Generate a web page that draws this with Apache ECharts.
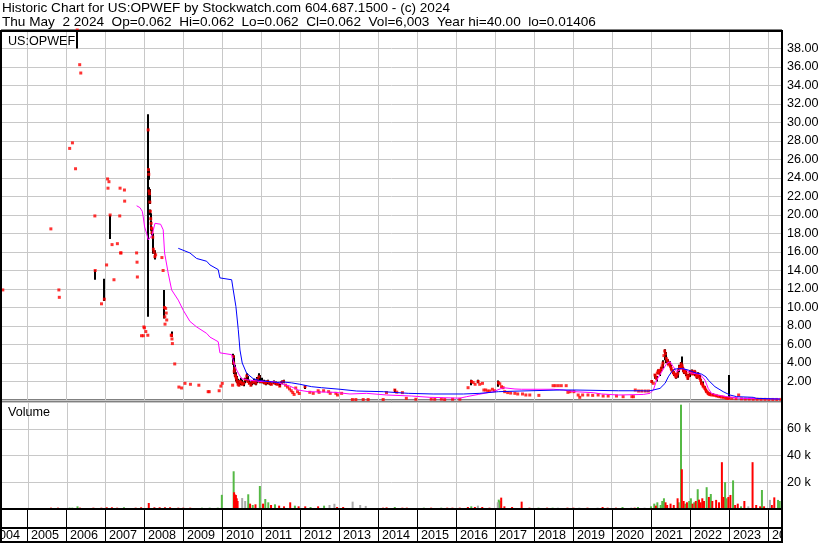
<!DOCTYPE html>
<html><head><meta charset="utf-8">
<script src="https://cdn.jsdelivr.net/npm/echarts@6/dist/echarts.min.js"></script>
<style>html,body{margin:0;padding:0;background:#fff}#c{width:830px;height:543px}</style>
</head><body><div id="c"></div>
<script>
// ---------- DATA ----------
const titleLine1 = 'Historic Chart for US:OPWEF by Stockwatch.com 604.687.1500 - (c) 2024';
const titleLine2 = 'Thu May  2 2024  Op=0.062  Hi=0.062  Lo=0.062  Cl=0.062  Vol=6,003  Year hi=40.00  lo=0.01406';
const symbolLabel = 'US:OPWEF';
const volumeLabel = 'Volume';
const years = [2004,2005,2006,2007,2008,2009,2010,2011,2012,2013,2014,2015,2016,2017,2018,2019,2020,2021,2022,2023,2024];
const dateMin = '2004-05-05', dateMax = '2024-05-14';

// closing prices (red dots)
const closes = [
['2004-05-22',11.9],['2005-08-15',18.5],['2005-10-29',11.9],['2005-11-02',11.1],
['2006-02-07',27.2],['2006-03-05',27.8],['2006-04-03',25.0],['2006-04-19',40.0],['2006-05-12',36.25],['2006-05-22',35.35],
['2006-10-01',19.9],['2006-10-04',14.0],['2006-12-02',10.4],['2006-12-29',10.9],
['2007-01-19',14.6],['2007-01-28',23.9],['2007-02-01',22.9],['2007-02-10',23.6],['2007-02-21',20.0],['2007-03-11',16.8],
['2007-03-29',13.0],['2007-04-30',16.9],['2007-05-22',19.9],['2007-05-25',22.9],['2007-05-30',15.9],['2007-06-03',15.9],
['2007-07-05',22.7],['2007-07-07',21.5],['2007-10-27',15.9],['2007-10-31',14.9],['2007-11-03',13.3],
['2007-12-12',6.95],['2007-12-29',6.95],['2008-01-03',7.9],['2008-01-08',7.8],['2008-01-21',7.4],['2008-02-09',7.0],
['2008-02-12',29.2],['2008-02-15',24.9],['2008-02-18',24.4],['2008-02-21',22.6],['2008-02-25',22.3],['2008-02-28',21.4],
['2008-03-04',20.4],['2008-03-07',19.6],['2008-03-11',19.1],['2008-03-14',18.6],['2008-03-18',18.1],['2008-03-21',18.5],
['2008-03-26',17.6],['2008-04-01',16.3],['2008-04-08',16.0],['2008-04-15',15.5],['2008-04-22',15.7],
['2008-06-20',15.4],['2008-07-01',14.0],['2008-07-14',10.0],['2008-07-17',9.0],['2008-07-19',8.2],['2008-07-25',9.9],
['2008-07-30',9.4],['2008-08-04',8.65],['2008-09-15',7.0],['2008-09-18',7.0],['2008-09-22',6.6],['2008-09-26',6.1],
['2008-10-18',3.9],['2008-11-26',1.4],['2008-12-21',1.3],['2009-01-22',1.8],['2009-03-14',1.7],['2009-06-01',1.6],
['2009-08-27',0.9],['2009-09-06',0.9],['2009-12-08',1.0],['2009-12-24',1.5],['2010-01-06',1.8],['2010-04-13',1.6],
['2010-04-19',4.7],['2010-04-23',4.0],['2010-04-28',3.1],['2010-05-03',3.4],['2010-05-07',2.7],['2010-05-13',2.5],
['2010-05-19',2.3],['2010-05-26',2.0],['2010-06-03',1.7],['2010-06-11',1.6],['2010-06-21',2.0],['2010-07-01',1.9],
['2010-07-13',1.7],['2010-07-26',1.8],['2010-08-09',2.2],['2010-08-23',2.6],['2010-09-03',2.0],['2010-09-17',1.8],
['2010-10-01',1.6],['2010-10-15',1.9],['2010-11-01',2.0],['2010-11-16',1.8],['2010-12-01',2.2],['2010-12-15',2.5],
['2010-12-29',2.0],['2011-01-14',2.0],['2011-02-01',1.9],['2011-02-18',1.8],['2011-03-08',2.0],['2011-03-25',1.8],
['2011-04-12',1.7],['2011-05-02',1.9],['2011-05-20',1.8],['2011-06-08',1.7],['2011-06-28',1.5],['2011-07-15',1.9],
['2011-08-03',2.0],['2011-08-22',1.6],['2011-09-09',1.4],['2011-09-28',1.2],['2011-10-14',1.0],['2011-10-28',0.8],
['2011-11-10',0.6],['2011-11-25',1.3],['2011-12-12',0.9],['2011-12-28',0.7],
['2012-02-20',1.44],['2012-04-05',0.83],['2012-05-07',0.72],['2012-06-22',1.0],['2012-07-01',0.83],['2012-08-12',1.0],
['2012-09-28',0.9],['2012-10-13',0.72],['2012-12-05',0.72],['2012-12-20',0.54],['2013-01-28',0.72],
['2013-05-09',0.05],['2013-06-10',0.05],['2013-08-18',0.05],['2013-10-03',0.05],['2014-02-21',0.05],['2014-03-24',0.8],
['2014-06-10',1.08],['2014-06-28',0.85],['2014-08-20',0.8],['2014-09-26',0.18],['2014-12-24',0.08],
['2015-05-17',0.1],['2015-06-19',0.08],['2015-08-20',0.1],['2015-09-20',0.05],['2015-12-03',0.08],['2016-02-09',0.08],
['2016-04-26',1.33],['2016-05-28',2.0],['2016-06-12',1.9],['2016-07-01',1.7],['2016-07-29',2.0],['2016-08-13',1.7],
['2016-09-08',1.8],['2016-09-21',1.08],['2016-10-09',1.08],['2016-10-28',0.97],['2016-11-15',0.97],['2016-12-10',1.16],
['2016-12-29',1.0],['2017-02-05',1.87],['2017-02-17',1.75],['2017-03-05',1.44],['2017-03-20',1.33],['2017-04-04',0.9],
['2017-05-02',0.8],['2017-05-30',0.75],['2017-07-08',0.72],['2017-08-04',0.65],['2017-09-18',0.65],['2017-10-19',0.54],
['2017-11-25',0.54],['2018-02-18',0.5],['2018-07-01',1.55],['2018-07-22',1.55],['2018-08-19',1.55],['2018-09-16',1.55],
['2018-11-01',1.55],['2018-11-17',0.83],['2018-12-08',0.9],['2019-01-12',0.9],['2019-02-21',0.54],['2019-03-08',0.29],
['2019-04-04',0.54],['2019-05-24',0.54],['2019-07-07',0.5],['2019-08-27',0.54],['2019-10-13',0.43],['2019-11-29',0.43],
['2020-02-15',0.43],['2020-04-17',0.36],['2020-07-08',0.36],['2020-07-23',0.36],['2020-08-09',1.08],['2020-09-09',0.97],
['2020-10-09',0.97],['2020-11-10',0.97],['2020-12-10',0.97],
['2021-01-09',2.0],['2021-01-25',1.8],['2021-02-09',2.7],['2021-02-17',2.5],['2021-02-24',2.3],['2021-03-03',2.9],
['2021-03-10',3.06],['2021-03-18',3.2],['2021-03-25',2.9],['2021-04-03',3.2],['2021-04-10',3.4],['2021-04-18',3.7],
['2021-04-25',4.0],['2021-05-04',4.8],['2021-05-11',5.3],['2021-05-18',5.0],['2021-05-26',4.5],['2021-06-03',4.3],
['2021-06-10',4.1],['2021-06-18',3.8],['2021-06-26',3.96],['2021-07-05',3.6],['2021-07-12',3.4],['2021-07-20',3.2],
['2021-07-27',3.06],['2021-08-04',2.9],['2021-08-11',2.8],['2021-08-19',2.6],['2021-08-26',2.5],['2021-09-03',2.7],
['2021-09-11',2.9],['2021-09-19',3.3],['2021-09-27',3.6],['2021-10-05',3.5],['2021-10-12',3.9],['2021-10-22',3.7],
['2021-10-28',3.4],['2021-11-03',3.2],['2021-11-12',3.0],['2021-11-20',3.1],['2021-11-28',2.88],['2021-12-06',2.6],
['2021-12-13',2.35],['2021-12-21',2.6],
['2022-01-03',2.9],['2022-01-11',3.1],['2022-01-19',3.06],['2022-01-27',2.8],['2022-02-03',2.9],['2022-02-11',3.1],
['2022-02-19',3.0],['2022-02-27',2.7],['2022-03-06',2.5],['2022-03-14',2.7],['2022-03-21',2.8],['2022-03-29',2.5],
['2022-04-05',2.35],['2022-04-13',2.1],['2022-04-21',1.8],['2022-04-29',1.7],['2022-05-06',1.5],['2022-05-14',1.4],
['2022-05-22',1.26],['2022-05-30',1.1],['2022-06-06',0.95],['2022-06-14',0.85],['2022-06-22',0.72],['2022-06-30',0.65],
['2022-07-07',0.6],['2022-07-21',0.55],['2022-08-08',0.54],['2022-08-24',0.5],['2022-09-09',0.45],['2022-09-25',0.4],
['2022-10-10',0.36],['2022-10-26',0.32],['2022-11-11',0.3],['2022-11-27',0.25],['2022-12-12',0.18],['2022-12-27',0.16],
['2023-01-06',0.2],['2023-02-01',0.18],['2023-03-10',0.15],['2023-04-04',0.54],['2023-04-30',0.12],['2023-06-05',0.1],
['2023-07-12',0.1],['2023-08-18',0.08],['2023-09-24',0.08],['2023-10-31',0.07],['2023-12-07',0.07],
['2024-01-12',0.06],['2024-02-18',0.06],['2024-03-26',0.06],['2024-05-02',0.062]
];

// daily high-low ranges (black bars): [date, low, high]
const ranges = [
['2006-04-19',38.0,40.0],['2006-10-04',13.0,14.05],['2006-12-29',10.7,13.1],['2007-02-21',17.4,20.0],
['2008-02-12',9.0,30.9],['2008-02-15',24.0,25.5],['2008-02-18',23.8,25.0],['2008-02-21',22.0,23.0],['2008-02-25',21.6,22.8],
['2008-02-28',21.2,21.8],['2008-03-04',20.0,20.6],['2008-03-07',19.4,20.2],['2008-03-11',18.9,19.4],['2008-03-14',18.3,18.9],
['2008-03-18',17.8,18.6],['2008-03-26',16.8,18.0],['2008-04-01',15.8,17.0],['2008-04-15',15.2,16.2],
['2008-07-14',8.8,11.9],['2008-09-18',6.8,7.4],
['2010-04-19',3.8,5.0],['2010-04-23',3.6,4.8],['2010-04-28',2.8,4.2],['2010-05-03',2.6,3.8],['2010-05-07',2.5,3.5],
['2010-05-13',2.2,3.0],['2010-05-19',2.0,2.9],['2010-05-26',1.8,2.6],['2010-06-03',1.6,2.3],['2010-06-11',1.5,2.0],
['2010-06-21',1.6,2.2],['2010-07-01',1.7,2.4],['2010-07-13',1.6,2.2],['2010-07-26',1.5,2.0],['2010-08-09',1.8,2.4],
['2010-08-23',2.0,2.9],['2010-09-03',1.9,2.6],['2010-09-17',1.7,2.2],['2010-10-01',1.5,2.0],['2010-10-15',1.6,2.1],
['2010-11-01',1.7,2.3],['2010-11-16',1.6,2.2],['2010-12-01',1.8,2.5],['2010-12-15',1.9,2.9],['2010-12-29',1.8,2.7],
['2011-01-14',1.8,2.4],['2011-02-01',1.7,2.2],['2011-02-18',1.6,2.1],['2011-03-08',1.7,2.2],['2011-03-25',1.6,2.0],
['2011-04-12',1.6,1.9],['2011-05-02',1.7,2.1],['2011-05-20',1.6,2.0],['2011-06-08',1.6,1.9],['2011-06-28',1.4,1.8],
['2011-07-15',1.7,2.1],['2011-08-03',1.8,2.2],['2012-02-20',1.2,1.55],['2014-06-10',0.8,1.2],
['2016-05-28',1.6,2.2],['2016-07-29',1.8,2.2],['2017-02-05',1.44,2.1],
['2021-01-09',1.8,2.16],['2021-02-09',2.3,2.8],['2021-02-24',2.0,2.6],['2021-03-10',2.8,3.3],['2021-03-25',2.6,3.2],
['2021-04-10',3.1,3.6],['2021-04-25',3.4,4.3],['2021-05-11',4.3,5.5],['2021-05-26',4.0,5.2],['2021-06-10',3.8,4.4],
['2021-06-26',3.6,4.2],['2021-07-12',3.2,3.8],['2021-07-27',2.8,3.3],['2021-08-11',2.6,3.1],['2021-08-26',2.3,2.9],
['2021-09-11',2.4,3.2],['2021-09-27',3.0,3.8],['2021-10-12',3.4,4.1],['2021-10-22',3.5,4.7],['2021-11-03',3.0,3.6],
['2021-11-12',2.8,3.3],['2021-11-28',2.6,3.2],['2021-12-13',2.2,2.8],['2022-01-03',2.5,3.1],['2022-01-19',2.8,3.3],
['2022-02-03',2.7,3.1],['2022-02-19',2.6,3.2],['2022-03-06',2.3,2.9],['2022-03-21',2.4,3.0],['2022-04-05',2.2,2.7],
['2022-04-21',1.7,2.3],['2022-05-06',1.4,2.0],['2022-05-22',1.1,1.5],['2022-06-06',0.8,1.2],['2022-06-22',0.6,0.9],
['2022-07-07',0.5,0.8],['2022-08-08',0.45,0.7],['2022-09-09',0.35,0.55],['2022-10-10',0.3,0.45],['2022-11-11',0.25,0.4],
['2022-12-12',0.15,0.3],['2023-01-06',0.15,2.7]
];

// moving averages
const maLong = [
['2008-11-20',16.4],['2009-03-09',15.9],['2009-05-11',15.3],['2009-08-13',15.0],['2009-09-13',14.6],['2009-11-29',14.1],
['2009-12-15',13.2],['2010-04-04',13.0],['2010-04-19',11.9],['2010-05-14',10.1],['2010-06-05',7.6],['2010-06-21',5.4],
['2010-07-12',4.0],['2010-08-22',2.9],['2010-10-23',2.3],['2010-12-24',2.1],['2011-05-29',1.9],['2011-07-30',1.95],
['2011-10-18',1.85],['2012-01-03',1.7],['2012-04-22',1.44],['2012-07-24',1.33],['2013-01-13',1.16],['2013-06-18',0.97],
['2014-02-22',0.9],['2014-10-14',0.72],['2015-06-04',0.65],['2016-03-13',0.65],['2016-08-15',0.72],['2017-02-03',0.9],
['2017-08-25',0.97],['2018-09-03',1.08],['2019-01-22',1.08],['2020-03-03',1.0],['2020-09-22',1.0],['2020-12-09',0.97],
['2021-01-25',1.08],['2021-03-29',1.26],['2021-05-15',1.8],['2021-06-14',2.5],['2021-07-16',3.06],['2021-08-16',3.35],
['2021-10-18',3.4],['2021-12-18',3.24],['2022-02-19',2.95],['2022-04-22',2.8],['2022-06-02',2.5],['2022-06-23',2.16],
['2022-08-25',1.44],['2022-11-10',0.9],['2023-01-13',0.54],['2023-03-16',0.36],['2023-08-18',0.29],['2023-09-19',0.18],
['2024-04-24',0.1]
];
const maShort = [
['2007-10-27',21.0],['2007-11-27',20.8],['2007-12-19',20.4],['2007-12-28',19.8],['2008-01-10',18.7],['2008-01-29',18.0],
['2008-02-13',17.3],['2008-02-28',17.1],['2008-03-19',17.8],['2008-04-16',19.1],['2008-05-01',19.3],['2008-06-08',19.0],
['2008-07-02',18.4],['2008-07-15',15.9],['2008-08-18',13.7],['2008-09-19',11.9],['2008-11-20',10.8],['2009-01-06',9.7],
['2009-03-09',8.5],['2009-05-11',7.9],['2009-08-13',7.2],['2009-09-13',6.8],['2009-11-29',6.3],['2009-12-15',5.1],
['2010-04-04',4.9],['2010-05-05',3.6],['2010-06-05',2.9],['2010-07-07',2.3],['2010-08-22',2.2],['2010-12-24',2.0],
['2011-04-28',2.0],['2011-06-30',1.8],['2011-10-02',1.5],['2011-12-18',1.08],['2012-03-21',0.9],['2012-11-26',0.83],
['2013-04-16',0.65],['2013-09-19',0.72],['2014-03-26',0.54],['2014-11-15',0.43],['2015-05-04',0.29],['2016-02-10',0.2],
['2016-04-13',0.36],['2016-07-30',0.6],['2016-12-18',0.9],['2017-03-22',1.33],['2017-07-09',1.19],['2017-09-10',1.16],
['2018-07-02',1.16],['2018-10-04',1.08],['2019-01-22',0.9],['2019-07-12',0.79],['2019-09-29',0.65],['2020-03-03',0.54],
['2020-10-23',0.6],['2020-12-25',0.72],['2021-01-25',1.08],['2021-02-26',2.16],['2021-04-14',3.06],['2021-05-31',3.96],
['2021-07-01',4.14],['2021-07-31',3.6],['2021-09-01',3.06],['2021-10-18',3.4],['2021-11-17',3.35],['2022-01-03',2.95],
['2022-02-03',2.88],['2022-04-06',2.8],['2022-05-23',2.16],['2022-06-23',1.26],['2022-07-24',0.72],['2022-09-10',0.54],
['2022-12-13',0.36],['2023-04-16',0.18],['2024-04-24',0.12]
];

// volume (shares): up days, down days, unchanged days
const volUp = [
['2006-01-30',1000],['2006-02-24',1000],['2006-04-14',2000],['2007-06-24',1300],['2009-06-25',1000],['2009-09-06',1000],
['2009-11-21',1000],['2009-12-29',10600],['2010-04-19',28200],['2010-09-03',11000],['2010-10-15',3000],['2010-12-21',17200],
['2011-02-10',7500],['2011-03-10',5000],['2011-05-12',3500],['2011-11-15',2500],['2012-04-10',1500],['2012-08-15',2500],
['2014-06-10',1500],['2015-03-10',1000],['2015-08-20',1000],['2016-05-28',2000],['2017-02-10',7000],['2017-02-20',6000],
['2018-02-18',1000],['2018-07-01',1000],['2020-04-17',1500],['2020-09-09',1500],
['2021-01-09',2000],['2021-02-09',4000],['2021-03-10',5000],['2021-04-10',3000],['2021-04-25',6000],['2021-05-11',8000],
['2021-09-27',5000],['2021-10-18',78000],['2021-11-28',4000],['2022-01-03',6000],['2022-01-19',8000],['2022-02-19',5000],
['2022-03-24',14800],['2022-06-16',16300],['2022-07-25',11200],['2022-12-06',20100],['2022-12-20',8000],['2023-02-19',21400],
['2023-05-05',2000],['2023-11-17',14200],['2024-04-16',6800],['2024-05-02',6000]
];
const volDown = [
['2005-08-08',1000],['2005-10-12',1000],['2006-05-08',1000],['2006-09-10',1000],['2006-11-24',1000],['2007-01-13',1300],
['2007-03-03',1300],['2007-04-21',1000],['2007-10-12',1000],['2007-12-02',1300],['2008-02-12',4500],['2008-04-05',1300],
['2008-05-24',1300],['2008-07-13',1300],['2008-08-30',1300],['2008-11-15',1000],['2009-01-01',1000],['2009-03-07',1000],
['2010-04-23',12500],['2010-04-28',11000],['2010-05-04',9500],['2010-05-10',10500],['2010-05-18',8000],['2010-05-26',6000],
['2010-09-20',4000],['2010-11-10',3500],['2011-01-20',4000],['2011-04-05',3000],['2011-06-20',2500],['2011-08-05',2000],
['2011-10-02',5000],['2011-12-20',2000],['2012-02-20',2000],['2012-06-20',2000],['2012-12-15',1500],['2013-02-10',1500],
['2014-02-20',1000],['2014-03-25',1200],['2014-08-20',1000],['2014-10-01',1000],['2015-05-17',1000],['2015-10-15',1000],
['2015-12-03',1000],['2016-02-10',1000],['2016-04-26',1500],['2016-07-01',1500],['2016-09-08',1500],['2016-11-15',1000],
['2017-03-05',8500],['2017-04-04',2000],['2017-06-15',1500],['2017-09-13',5500],['2017-11-25',1000],['2018-05-10',1000],
['2018-11-17',1000],['2019-01-12',1000],['2019-05-24',1000],['2019-10-13',1500],['2019-11-29',1000],['2020-02-15',1000],
['2020-08-09',1000],['2021-02-24',2500],['2021-05-26',5000],['2021-06-10',3000],['2021-07-12',4000],['2021-08-11',3000],
['2021-09-16',8000],['2021-10-26',29700],['2021-11-12',6000],['2021-12-13',5000],['2022-02-03',4000],['2022-03-06',6000],
['2022-04-05',7000],['2022-04-21',5000],['2022-05-06',8000],['2022-05-22',6000],['2022-07-07',9000],['2022-08-08',6000],
['2022-09-13',6800],['2022-10-10',5000],['2022-11-06',35000],['2022-11-20',9000],['2023-01-06',9000],['2023-01-25',10500],
['2023-03-10',3000],['2023-04-04',4000],['2023-06-05',6000],['2023-08-21',35000],['2023-09-24',3000],['2023-10-31',2000],
['2023-12-07',2000],['2024-02-18',3000],['2024-03-12',8700]
];
const volFlat = [
['2010-07-08',8200],['2010-08-05',6000],['2012-10-05',3000],['2012-11-20',3900],['2013-05-10',5500],['2013-07-20',3000],
['2013-09-10',2300],['2016-07-29',2500],['2017-02-01',5000],['2018-08-19',1000],['2019-03-08',1000],['2019-08-27',1000],
['2020-07-08',1000],['2020-11-10',1000],['2023-07-12',2000],['2024-01-31',6800]
];

// ---------- CHART ----------
const FONT = '"Liberation Sans", Arial, sans-serif';
const FS_TITLE = 13.6;
const FS = 12.6;
const GRID_COLOR = '#c8c8c8';
const chart = echarts.init(document.getElementById('c'), null, {renderer: 'canvas'});

function xAx(gi) {
  return {type: 'time', gridIndex: gi, min: dateMin, max: dateMax,
    axisLine: {show: false}, axisTick: {show: false}, axisLabel: {show: false}, splitLine: {show: false}};
}
function yearLines(gi, color, withText) {
  return {
    type: 'custom', xAxisIndex: gi, yAxisIndex: gi, z: 1, silent: true, clip: true,
    data: years.map(y => [y + '-01-01', 0]),
    renderItem: (p, api) => {
      const cs = p.coordSys;
      const x = Math.round(api.coord([api.value(0), 0])[0]) + 0.5;
      const children = [{type: 'line', shape: {x1: x, y1: cs.y, x2: x, y2: cs.y + cs.height},
        style: {stroke: color, lineWidth: 1}}];
      if (withText) {
        children.push({type: 'text', style: {text: String(years[p.dataIndex]), x: x + 3.5, y: cs.y + 26.5,
          fill: '#000', fontSize: FS, fontFamily: FONT, align: 'left', verticalAlign: 'middle'}});
      }
      return {type: 'group', children};
    }
  };
}

const option = {
  animation: false,
  backgroundColor: '#fff',
  textStyle: {fontFamily: FONT},
  grid: [
    {left: 1, right: 48, top: 30, height: 370, show: true, borderColor: '#000', borderWidth: 1, backgroundColor: 'transparent'},
    {left: 1, right: 48, top: 402, height: 107, show: true, borderColor: '#000', borderWidth: 1, backgroundColor: 'transparent'},
    {left: 1, right: 48, top: 509, height: 33, show: false}
  ],
  xAxis: [xAx(0), xAx(1), xAx(2)],
  yAxis: [
    {type: 'value', gridIndex: 0, position: 'right', min: 0, max: 40, interval: 2,
      axisLine: {show: false}, axisTick: {show: false},
      axisLabel: {margin: 5, color: '#000', fontSize: FS, fontFamily: FONT,
        formatter: v => (v > 0 && v < 40) ? v.toFixed(2) : ''},
      splitLine: {show: true, lineStyle: {color: GRID_COLOR, width: 1}}},
    {type: 'value', gridIndex: 1, position: 'right', min: 0, max: 80000, interval: 20000,
      axisLine: {show: false}, axisTick: {show: false},
      axisLabel: {margin: 5, color: '#000', fontSize: FS, fontFamily: FONT,
        formatter: v => (v > 0 && v < 80000) ? (v / 1000) + ' k' : ''},
      splitLine: {show: true, lineStyle: {color: GRID_COLOR, width: 1}}},
    {type: 'value', gridIndex: 2, min: 0, max: 1, show: false}
  ],
  graphic: [
    {type: 'text', left: 2, top: 1, style: {text: titleLine1, fontSize: FS_TITLE, fontFamily: FONT, fill: '#000'}},
    {type: 'text', left: 2, top: 15, style: {text: titleLine2, fontSize: FS_TITLE, fontFamily: FONT, fill: '#000'}},
    {type: 'rect', shape: {x: 0, y: 30, width: 783, height: 2}, style: {fill: '#000'}, z: 100},
    {type: 'rect', shape: {x: 0, y: 30, width: 2, height: 513}, style: {fill: '#000'}, z: 100},
    {type: 'rect', shape: {x: 781, y: 30, width: 2, height: 513}, style: {fill: '#000'}, z: 100},
    {type: 'rect', shape: {x: 0, y: 508, width: 783, height: 2}, style: {fill: '#000'}, z: 100},
    {type: 'rect', shape: {x: 0, y: 527, width: 783, height: 2}, style: {fill: '#000'}, z: 100},
    {type: 'rect', shape: {x: 0, y: 541, width: 783, height: 2}, style: {fill: '#000'}, z: 100},
    {type: 'text', left: 8, top: 35, style: {text: symbolLabel, fontSize: FS, fontFamily: FONT, fill: '#000'}, z: 100},
    {type: 'text', left: 8, top: 406, style: {text: volumeLabel, fontSize: FS, fontFamily: FONT, fill: '#000'}, z: 100}
  ],
  series: [
    yearLines(0, GRID_COLOR, false),
    yearLines(1, GRID_COLOR, false),
    yearLines(2, '#000', true),
    {type: 'custom', name: 'range', xAxisIndex: 0, yAxisIndex: 0, z: 3, clip: true, silent: true,
      data: ranges, encode: {x: 0, y: [1, 2]},
      renderItem: (p, api) => {
        const lo = api.coord([api.value(0), api.value(1)]);
        const hi = api.coord([api.value(0), api.value(2)]);
        const x = Math.round(lo[0]);
        return {type: 'line', shape: {x1: x, y1: lo[1], x2: x, y2: hi[1]}, style: {stroke: '#000', lineWidth: 2}};
      }},
    {type: 'scatter', name: 'close', xAxisIndex: 0, yAxisIndex: 0, z: 4, clip: true, silent: true,
      data: closes, symbol: 'rect', symbolSize: 3, itemStyle: {color: '#ff0000'}},
    {type: 'line', name: 'maShort', xAxisIndex: 0, yAxisIndex: 0, z: 5, silent: true, data: maShort,
      symbol: 'none', lineStyle: {color: '#ff00ff', width: 1}},
    {type: 'line', name: 'maLong', xAxisIndex: 0, yAxisIndex: 0, z: 5, silent: true, data: maLong,
      symbol: 'none', lineStyle: {color: '#0000ff', width: 1}},
    {type: 'bar', name: 'volUp', xAxisIndex: 1, yAxisIndex: 1, data: volUp, barWidth: 2, barGap: '-100%',
      itemStyle: {color: '#55b945'}, z: 3, silent: true},
    {type: 'bar', name: 'volDown', xAxisIndex: 1, yAxisIndex: 1, data: volDown, barWidth: 2, barGap: '-100%',
      itemStyle: {color: '#ff0000'}, z: 3, silent: true},
    {type: 'bar', name: 'volFlat', xAxisIndex: 1, yAxisIndex: 1, data: volFlat, barWidth: 2, barGap: '-100%',
      itemStyle: {color: '#aaaaaa'}, z: 3, silent: true}
  ]
};
chart.setOption(option);
</script></body></html>
